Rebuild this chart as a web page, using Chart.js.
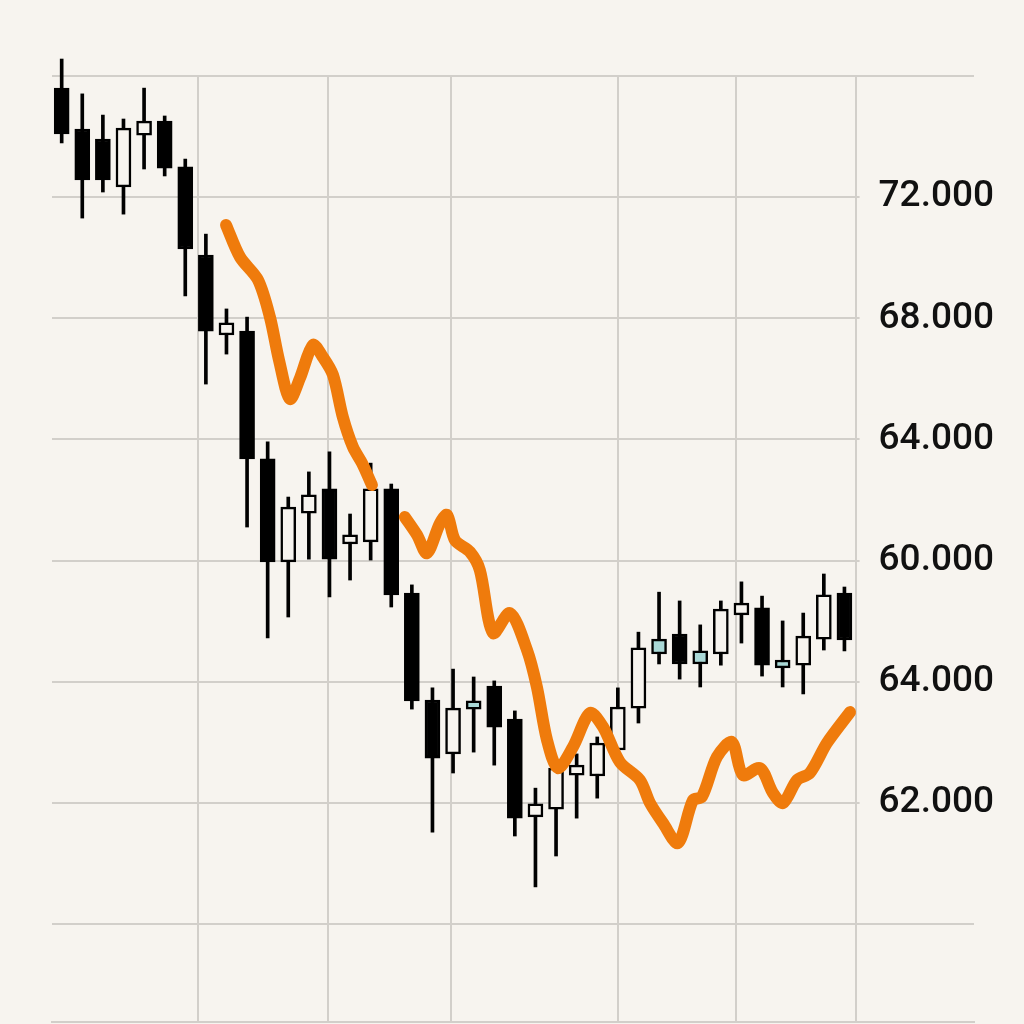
<!DOCTYPE html>
<html>
<head>
<meta charset="utf-8">
<script src="https://cdn.jsdelivr.net/npm/chart.js@4/dist/chart.umd.min.js"></script>
<style>
  html, body { margin: 0; padding: 0; background: #f7f4ef; }
  canvas { display: block; }
</style>
</head>
<body>
<canvas id="chart" width="1024" height="1024"></canvas>
<script>
// candles, one per session (index = session number)
const opens  = [75.60, 74.25, 73.92, 72.34, 74.05, 74.51, 73.00, 70.09, 67.45, 67.58, 63.36, 59.96, 61.57, 62.37, 60.55, 60.62, 62.37, 58.93, 55.40, 53.62, 55.10, 55.86, 54.77, 51.54, 51.80, 52.92, 52.89, 53.75, 55.13, 56.92, 57.58, 56.59, 56.92, 58.21, 58.44, 56.46, 56.55, 57.41, 58.93];
const closes = [74.09, 72.57, 72.57, 74.28, 74.51, 72.96, 70.29, 67.58, 67.85, 63.36, 59.96, 61.77, 62.17, 60.05, 60.85, 62.37, 58.87, 55.37, 53.48, 55.13, 55.37, 54.50, 51.50, 51.97, 53.15, 53.25, 53.98, 55.17, 57.12, 57.41, 56.59, 57.02, 58.40, 58.60, 56.55, 56.72, 57.51, 58.87, 57.38];
const highs  = [76.56, 75.41, 74.71, 74.58, 75.60, 74.68, 73.26, 70.78, 68.31, 68.04, 63.92, 62.10, 62.93, 63.59, 61.54, 63.22, 62.53, 59.20, 55.80, 56.42, 56.16, 56.03, 55.04, 52.49, 53.32, 53.62, 54.18, 55.80, 57.64, 58.96, 58.67, 57.88, 58.67, 59.30, 58.83, 58.01, 58.27, 59.56, 59.13];
const lows   = [73.79, 71.31, 72.17, 71.44, 72.93, 72.70, 68.74, 65.83, 66.82, 61.11, 57.45, 58.14, 60.05, 58.80, 59.36, 60.02, 58.47, 55.10, 51.04, 52.99, 53.68, 53.25, 50.91, 49.23, 50.25, 51.50, 52.16, 53.48, 54.64, 56.59, 56.09, 55.83, 56.55, 57.28, 56.19, 55.83, 55.60, 57.05, 57.02];

// moving average line (x in sessions), null = break in the line
const maX = [7.98, 8.66, 9.53, 10.11, 10.55, 11.08, 11.57, 12.2, 12.68, 13.17, 13.65, 14.14, 14.58, 15.06, 16, 16.66, 17.25, 17.73, 18.37, 18.71, 19.09, 19.82, 20.3, 20.94, 21.76, 22.59, 23.07, 23.56, 24.09, 24.82, 25.65, 26.28, 27.1, 28.07, 28.56, 29.19, 29.92, 30.65, 31.08, 31.81, 32.54, 33.07, 33.9, 34.53, 35.02, 35.7, 36.32, 37.15, 38.27];
const maY = [71.08, 70.02, 69.27, 68.04, 66.62, 65.34, 66.03, 67.12, 66.72, 66.13, 64.74, 63.75, 63.22, 62.50, null, 61.44, 60.85, 60.25, 61.24, 61.51, 60.68, 60.29, 59.69, 57.61, 58.27, 57.05, 55.83, 54.08, 53.15, 53.85, 54.97, 54.51, 53.35, 52.76, 52.00, 51.34, 50.68, 52.10, 52.20, 53.52, 54.01, 52.92, 53.15, 52.33, 52.00, 52.76, 52.99, 53.98, 55.00];

// axis ticks
const yTicks  = [48, 52, 56, 60, 64, 68, 72, 76];
const yLabels = ["", "62.000", "64.000", "60.000", "64.000", "68.000", "72.000", ""];
const xGrid   = [6.62, 12.93, 18.9, 27.0, 32.73, 38.54];

const BG = '#f7f4ef';
const GRID = '#d2cfca';
const tealCandles = [20, 29, 31, 35];

const idx = opens.map((_, i) => i);
const bodyColors = idx.map(i => {
  if (closes[i] < opens[i]) return '#000000';
  return tealCandles.includes(i) ? '#a9d8d6' : BG;
});

new Chart(document.getElementById('chart'), {
  type: 'bar',
  data: {
    datasets: [
      {
        type: 'line',
        data: maX.map((x, k) => ({ x: x, y: maY[k] })),
        borderColor: '#ef7b0c',
        borderWidth: 12,
        borderCapStyle: 'round',
        borderJoinStyle: 'round',
        tension: 0.3,
        pointRadius: 0,
        spanGaps: false,
        clip: false,
        order: 0
      },
      {
        data: idx.map(i => ({ x: i, y: [opens[i], closes[i]] })),
        backgroundColor: bodyColors,
        borderColor: '#000000',
        borderWidth: 2.5,
        borderSkipped: false,
        barThickness: 15,
        grouped: false,
        clip: false,
        order: 1
      },
      {
        data: idx.map(i => ({ x: i, y: [lows[i], highs[i]] })),
        backgroundColor: '#000000',
        barThickness: 3,
        grouped: false,
        clip: false,
        order: 2
      }
    ]
  },
  options: {
    responsive: false,
    animation: false,
    layout: { padding: { left: 52, right: 50, top: 76, bottom: 2 } },
    plugins: { legend: { display: false }, tooltip: { enabled: false } },
    scales: {
      x: {
        type: 'linear',
        min: -0.47,
        max: 44.29,
        offset: false,
        afterBuildTicks: s => { s.ticks = xGrid.map(v => ({ value: v })); },
        afterFit: s => { s.height = 0; s.paddingLeft = 0; s.paddingRight = 0; },
        ticks: { display: false },
        grid: { color: GRID, lineWidth: 2, drawTicks: false, offset: false },
        border: { display: true, color: GRID, width: 2 }
      },
      y: {
        position: 'right',
        min: 44.77,
        max: 76,
        afterBuildTicks: s => { s.ticks = yTicks.map(v => ({ value: v })); },
        afterFit: s => { s.width = 0; s.paddingTop = 0; s.paddingBottom = 0; },
        grid: { color: GRID, lineWidth: 2, drawTicks: false },
        border: { display: false },
        ticks: {
          mirror: true,
          padding: 20,
          color: '#111111',
          font: { family: 'Roboto', size: 37, weight: '500' },
          callback: (v, i) => yLabels[i],
          showLabelBackdrop: true,
          backdropColor: BG,
          backdropPadding: { left: 19, right: 2, top: 3, bottom: 3 }
        }
      }
    }
  }
});
</script>
</body>
</html>
